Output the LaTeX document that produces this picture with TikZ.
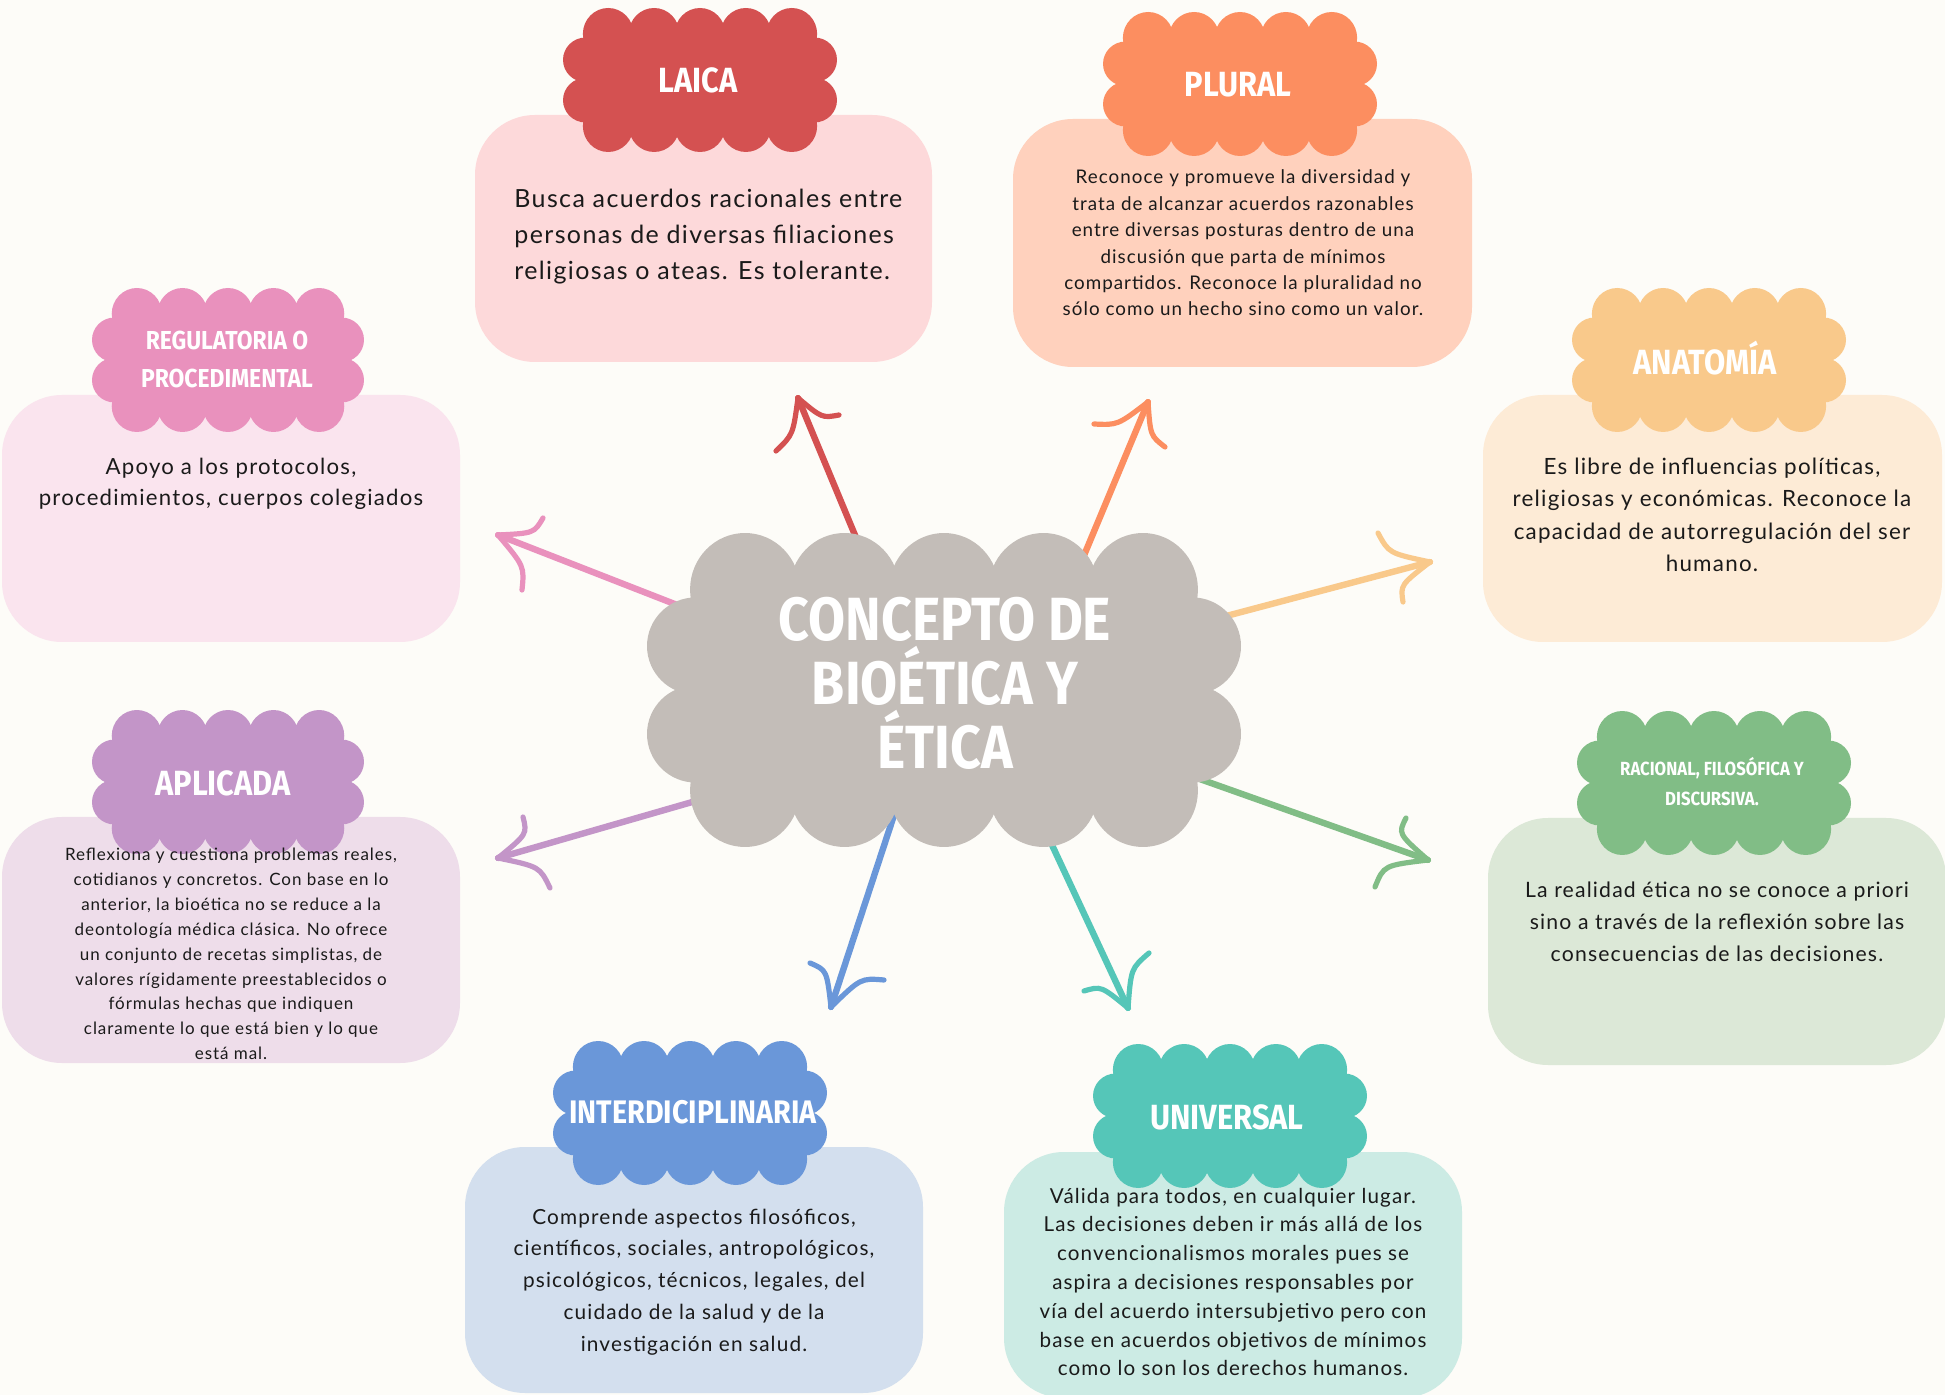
\documentclass[tikz,border=0pt]{standalone}
\usepackage{fontspec}
\setmainfont{Lato}[LetterSpace=5.5]
\newfontfamily\titlefont{Fira Sans}[FakeStretch=0.88]
\usetikzlibrary{calc}

\definecolor{bg}{HTML}{FDFCF8}
\definecolor{cencol}{HTML}{C3BDB8}
\definecolor{laica}{HTML}{D45151}
\definecolor{laicabox}{HTML}{FDD9DA}
\definecolor{plural}{HTML}{FC8E60}
\definecolor{pluralbox}{HTML}{FFD1BD}
\definecolor{regcol}{HTML}{E991BD}
\definecolor{regbox}{HTML}{FAE4EE}
\definecolor{anat}{HTML}{F9C98B}
\definecolor{anatbox}{HTML}{FDEBD6}
\definecolor{apli}{HTML}{C395C8}
\definecolor{aplibox}{HTML}{EEDDEA}
\definecolor{raccol}{HTML}{81BD86}
\definecolor{racbox}{HTML}{DCE8D7}
\definecolor{intercol}{HTML}{6A97D9}
\definecolor{interbox}{HTML}{D3DFEE}
\definecolor{univ}{HTML}{55C6B8}
\definecolor{univbox}{HTML}{CCEBE4}
\definecolor{txt}{HTML}{1A1A1A}

\newcommand\cloudat[5]{%
  \begin{scope}[shift={(#2,#3)}, xscale=#4, yscale=#5]
    \fill[#1] (-0.84,-0.64) rectangle (0.84,0.64);
    \foreach \xx in {-0.67,-0.335,0,0.335,0.67}{
      \fill[#1] (\xx,0.64) circle[x radius=0.185, y radius=0.36];
      \fill[#1] (\xx,-0.64) circle[x radius=0.185, y radius=0.36];
    }
    \foreach \xx in {-0.835,0.835}{
      \fill[#1] (\xx,0.28) circle[x radius=0.165, y radius=0.31];
      \fill[#1] (\xx,-0.28) circle[x radius=0.165, y radius=0.31];
    }
  \end{scope}}

\newcommand\handarrow[5]{%
  \draw[shaft,#1] (#2) -- (#3);
  \draw[barb,#1] (#3) .. controls ($(#3)!0.5!(#4)!0.08!(#2)$) .. (#4);
  \draw[barb,#1] (#3) .. controls ($(#3)!0.5!(#5)!0.08!(#2)$) .. (#5);}

\tikzset{
  infobox/.style={rounded corners=30pt},
  shaft/.style={line width=3.2pt, line cap=round},
  barb/.style={line width=2.6pt, line cap=round},
  title/.style={font=\titlefont\bfseries\fontsize{17.5}{19}\selectfont, text=white, inner sep=0pt, align=center},
  body/.style={text=txt, inner sep=0pt, align=center}
}

\begin{document}
\begin{tikzpicture}[x=0.5pt,y=-0.5pt]
\useasboundingbox (0,0) rectangle (1945,1395);
\fill[bg] (0,0) rectangle (1945,1395);

% boxes
\fill[laicabox, infobox] (475,115) rectangle (932,362);
\fill[pluralbox, infobox] (1013,119) rectangle (1472,367);
\fill[regbox, infobox] (2,395) rectangle (460,642);
\fill[anatbox, infobox] (1483,395) rectangle (1942,642);
\fill[aplibox, infobox] (2,817) rectangle (460,1063);
\fill[racbox, infobox] (1488,818) rectangle (1946,1065);
\fill[interbox, infobox] (465,1147) rectangle (923,1393);
\fill[univbox, infobox] (1004,1152) rectangle (1462,1398);

% small clouds
\cloudat{laica}{700}{80}{137}{72}
\cloudat{plural}{1240}{84}{137}{72}
\cloudat{regcol}{228}{360}{136}{72}
\cloudat{anat}{1709}{360}{137}{72}
\cloudat{apli}{228}{782}{136}{72}
\cloudat{raccol}{1714}{783}{137}{72}
\cloudat{intercol}{690}{1113}{137}{72}
\cloudat{univ}{1230}{1116}{137}{72}

% arrow coordinates
\coordinate (tailR) at (862,552);
\coordinate (tipR) at (798,398);
\coordinate (bR1) at (776,451);
\coordinate (bR2) at (839,415);
\coordinate (tailO) at (1080,565);
\coordinate (tipO) at (1148,402);
\coordinate (bO1) at (1094,424);
\coordinate (bO2) at (1165,447);
\coordinate (tailY) at (1215,619);
\coordinate (tipY) at (1430,562);
\coordinate (bY1) at (1378,533);
\coordinate (bY2) at (1403,602);
\coordinate (tailG) at (1180,772);
\coordinate (tipG) at (1428,860);
\coordinate (bG1) at (1406,818);
\coordinate (bG2) at (1375,887);
\coordinate (tailT) at (1045,830);
\coordinate (tipT) at (1128,1008);
\coordinate (bT1) at (1084,991);
\coordinate (bT2) at (1149,953);
\coordinate (tailB) at (899,800);
\coordinate (tipB) at (831,1007);
\coordinate (bB1) at (810,963);
\coordinate (bB2) at (884,980);
\coordinate (tailP) at (720,794);
\coordinate (tipP) at (498,858);
\coordinate (bP1) at (523,817);
\coordinate (bP2) at (550,888);
\coordinate (tailK) at (690,610);
\coordinate (tipK) at (498,535);
\coordinate (bK1) at (543,518);
\coordinate (bK2) at (522,590);

\handarrow{laica}{tailR}{tipR}{bR1}{bR2}
\handarrow{plural}{tailO}{tipO}{bO1}{bO2}
\handarrow{anat}{tailY}{tipY}{bY1}{bY2}
\handarrow{raccol}{tailG}{tipG}{bG1}{bG2}
\handarrow{univ}{tailT}{tipT}{bT1}{bT2}
\handarrow{intercol}{tailB}{tipB}{bB1}{bB2}
\handarrow{apli}{tailP}{tipP}{bP1}{bP2}
\handarrow{regcol}{tailK}{tipK}{bK1}{bK2}

% center cloud
\cloudat{cencol}{944}{690}{297}{157}
\node[title, font=\titlefont\bfseries\fontsize{30.5}{32}\selectfont, text=white] (cen) at (945,683) {CONCEPTO DE\\BIOÉTICA Y\\ÉTICA};

% titles
\node[title] (tLaica) at (698,80) {LAICA};
\node[title] (tPlural) at (1238,85) {PLURAL};
\node[title, font=\titlefont\bfseries\fontsize{13}{19}\selectfont] (tReg) at (227,359) {REGULATORIA O\\PROCEDIMENTAL};
\node[title] (tAnat) at (1705,358) {ANATOMÍA};
\node[title] (tApli) at (223,783) {APLICADA};
\node[title, font=\titlefont\bfseries\fontsize{9.5}{15}\selectfont] (tRac) at (1712,782) {RACIONAL, FILOSÓFICA Y\\DISCURSIVA.};
\node[title, font=\titlefont\bfseries\fontsize{16.3}{19}\selectfont] (tInter) at (693,1112) {INTERDICIPLINARIA};
\node[title] (tUniv) at (1227,1117) {UNIVERSAL};

% body texts
\node[body, align=left, anchor=west, font=\fontsize{12.5}{18}\selectfont] (bLaica) at (514,237)
  {Busca acuerdos racionales entre\\personas de diversas filiaciones\\religiosas o ateas. Es tolerante.};
\node[body, font=\fontsize{9.4}{13.2}\selectfont] (bPlural) at (1243,243)
  {Reconoce y promueve la diversidad y\\trata de alcanzar acuerdos razonables\\entre diversas posturas dentro de una\\discusión que parta de mínimos\\compartidos. Reconoce la pluralidad no\\sólo como un hecho sino como un valor.};
\node[body, font=\fontsize{11.1}{15.5}\selectfont] (bReg) at (231,484)
  {Apoyo a los protocolos,\\procedimientos, cuerpos colegiados};
\node[body, font=\fontsize{11.2}{16.2}\selectfont] (bAnat) at (1712,515)
  {Es libre de influencias políticas,\\religiosas y económicas. Reconoce la\\capacidad de autorregulación del ser\\humano.};
\node[body, font=\fontsize{8.5}{12.45}\selectfont] (bApli) at (231,954)
  {Reflexiona y cuestiona problemas reales,\\cotidianos y concretos. Con base en lo\\anterior, la bioética no se reduce a la\\deontología médica clásica. No ofrece\\un conjunto de recetas simplistas, de\\valores rígidamente preestablecidos o\\fórmulas hechas que indiquen\\claramente lo que está bien y lo que\\está mal.};
\node[body, font=\fontsize{10.6}{16}\selectfont] (bRac) at (1717,922)
  {La realidad ética no se conoce a priori\\sino a través de la reflexión sobre las\\consecuencias de las decisiones.};
\node[body, font=\fontsize{10.4}{15.9}\selectfont] (bInter) at (694,1282)
  {Comprende aspectos filosóficos,\\científicos, sociales, antropológicos,\\psicológicos, técnicos, legales, del\\cuidado de la salud y de la\\investigación en salud.};
\node[body, font=\fontsize{10.3}{14.4}\selectfont] (bUniv) at (1233,1282)
  {Válida para todos, en cualquier lugar.\\Las decisiones deben ir más allá de los\\convencionalismos morales pues se\\aspira a decisiones responsables por\\vía del acuerdo intersubjetivo pero con\\base en acuerdos objetivos de mínimos\\como lo son los derechos humanos.};
\end{tikzpicture}
\end{document}
